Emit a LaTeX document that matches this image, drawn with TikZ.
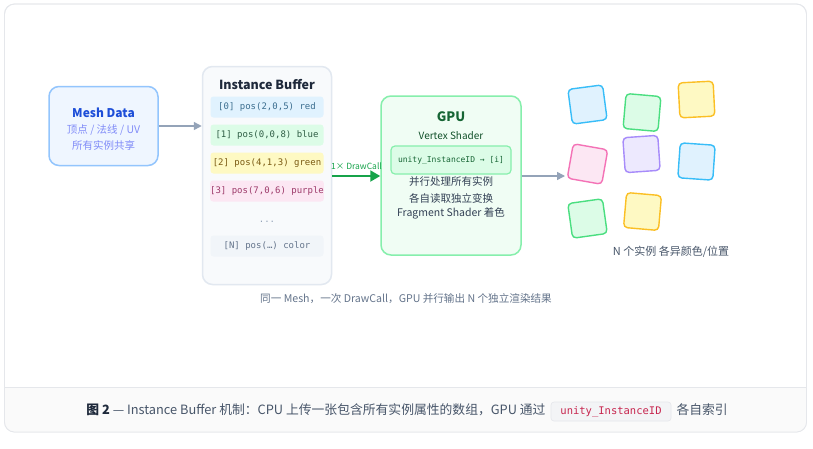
\documentclass[tikz,border=0pt]{standalone}
\usepackage{fontspec}
\setmainfont{Noto Sans CJK SC}
\setmonofont{DejaVu Sans Mono}
\usetikzlibrary{arrows.meta}
\definecolor{frameln}{HTML}{E5E7EB}
\definecolor{capbg}{HTML}{FAFAFA}
\definecolor{meshfill}{HTML}{EFF6FF}
\definecolor{meshln}{HTML}{93C5FD}
\definecolor{meshtitle}{HTML}{1D4ED8}
\definecolor{meshsub}{HTML}{818CF8}
\definecolor{ibfill}{HTML}{F8FAFC}
\definecolor{ibln}{HTML}{E2E8F0}
\definecolor{dark}{HTML}{1E293B}
\definecolor{slate}{HTML}{64748B}
\definecolor{slatedk}{HTML}{475569}
\definecolor{body}{HTML}{334155}
\definecolor{arrowgrey}{HTML}{94A3B8}
\definecolor{gpufill}{HTML}{F0FDF4}
\definecolor{gpuln}{HTML}{86EFAC}
\definecolor{gpudk}{HTML}{166534}
\definecolor{drawgreen}{HTML}{16A34A}
\definecolor{rowA}{HTML}{E0F2FE}\definecolor{rowAt}{HTML}{3B6E8F}
\definecolor{rowB}{HTML}{DCFCE7}\definecolor{rowBt}{HTML}{2F5E45}
\definecolor{rowC}{HTML}{FEF9C3}\definecolor{rowCt}{HTML}{7A5A12}
\definecolor{rowD}{HTML}{FCE7F3}\definecolor{rowDt}{HTML}{9D3A6A}
\definecolor{rowN}{HTML}{F1F5F9}
\definecolor{sqblueF}{HTML}{E0F2FE}\definecolor{sqblueL}{HTML}{38BDF8}
\definecolor{sqgreenF}{HTML}{DCFCE7}\definecolor{sqgreenL}{HTML}{4ADE80}
\definecolor{sqyelF}{HTML}{FEF9C3}\definecolor{sqyelL}{HTML}{FBBF24}
\definecolor{sqpinkF}{HTML}{FCE7F3}\definecolor{sqpinkL}{HTML}{F472B6}
\definecolor{sqpurF}{HTML}{EDE9FE}\definecolor{sqpurL}{HTML}{A78BFA}
\definecolor{codebg}{HTML}{F3F4F6}
\definecolor{codeln}{HTML}{E5E7EB}
\definecolor{codered}{HTML}{C7254E}
\tikzset{
  card/.style={draw, line width=1.5pt, rounded corners=10pt, inner sep=0pt},
  rowbox/.style={rounded corners=3pt, minimum width=113pt, minimum height=21pt, inner sep=0pt, font=\ttfamily\fontsize{9}{10}\selectfont},
  sqbox/.style={draw, line width=1.4pt, rounded corners=4pt, minimum size=35pt, inner sep=0pt},
  lbl/.style={inner sep=0pt},
  greyarrow/.style={draw=arrowgrey, line width=1.5pt, -{Triangle[length=8pt,width=8pt]}},
}
\begin{document}
\begin{tikzpicture}[x=1pt,y=-1pt]
\useasboundingbox (0,0) rectangle (813,448);
\fill[white] (0,0) rectangle (813,448);
% outer frame
\node[draw=frameln, line width=0.8pt, rounded corners=10pt, fill=white, minimum width=802pt, minimum height=428pt, inner sep=0pt] (frame) at (405.5,218) {};
\begin{scope}
\clip[rounded corners=10pt] (4.5,4) rectangle (806.5,432);
\fill[capbg] (4.5,387) rectangle (806.5,432);
\end{scope}
\draw[frameln, line width=0.8pt] (4.5,387) -- (806.5,387);
\draw[frameln, line width=0.8pt, rounded corners=10pt] (4.5,4) rectangle (806.5,432);

% Mesh Data
\node[card, draw=meshln, fill=meshfill, minimum width=109pt, minimum height=79pt] (mesh) at (103.5,126) {};
\node[lbl, font=\bfseries\fontsize{12}{14}\selectfont, text=meshtitle] (meshT) at (103.5,113) {Mesh Data};
\node[lbl, font=\fontsize{10.5}{12}\selectfont, text=meshsub] (meshS1) at (103.5,130) {顶点 / 法线 / UV};
\node[lbl, font=\fontsize{10.5}{12}\selectfont, text=meshsub] (meshS2) at (103.5,145) {所有实例共享};

% Instance Buffer
\node[card, draw=ibln, fill=ibfill, minimum width=129pt, minimum height=218pt] (ib) at (267,175.5) {};
\node[lbl, font=\bfseries\fontsize{12.5}{14}\selectfont, text=dark] (ibT) at (267,85) {Instance Buffer};
\node[rowbox, fill=rowA, text=rowAt] (r0) at (267,107) {[0] pos(2,0,5) red};
\node[rowbox, fill=rowB, text=rowBt] (r1) at (267,135) {[1] pos(0,0,8) blue};
\node[rowbox, fill=rowC, text=rowCt] (r2) at (267,163) {[2] pos(4,1,3) green};
\node[rowbox, fill=rowD, text=rowDt] (r3) at (267,191) {[3] pos(7,0,6) purple};
\node[lbl, font=\ttfamily\fontsize{9}{10}\selectfont, text=arrowgrey] (dots) at (267,222) {...};
\node[rowbox, fill=rowN, text=slate] (rN) at (267,246) {[N] pos(…) color};

% GPU
\node[card, draw=gpuln, fill=gpufill, minimum width=140pt, minimum height=159pt] (gpu) at (451,175.5) {};
\node[lbl, font=\bfseries\fontsize{13}{15}\selectfont, text=gpudk] (gpuT) at (451,117) {GPU};
\node[lbl, font=\fontsize{10}{12}\selectfont, text=gpudk!80!black] (vs) at (451,136) {Vertex Shader};
\node[draw=gpuln, line width=1.2pt, fill=rowB, rounded corners=4pt, minimum width=120pt, minimum height=28pt, inner sep=0pt, font=\ttfamily\fontsize{8}{10}\selectfont, text=gpudk] (uid) at (451,160) {unity\_InstanceID → [i]};
\node[lbl, font=\fontsize{10.5}{12}\selectfont, text=body] (g1) at (451,182) {并行处理所有实例};
\node[lbl, font=\fontsize{10.5}{12}\selectfont, text=body] (g2) at (451,198) {各自读取独立变换};
\node[lbl, font=\fontsize{10.5}{12}\selectfont, text=body] (g3) at (451,213) {Fragment Shader 着色};

% connectors
\draw[greyarrow] (mesh.east) -- (ib.west |- mesh.east);
\draw[draw=drawgreen, line width=2pt, -{Triangle[length=10pt,width=11pt]}] (ib.east |- 0,176) -- (gpu.west |- 0,176);
\node[lbl, font=\fontsize{8.5}{10}\selectfont, text=drawgreen] (dc) at (356.5,166) {1× DrawCall};
\coordinate (inst) at (565,176);
\draw[greyarrow] (gpu.east |- inst) -- (inst);

% instances
\node[sqbox, fill=sqblueF, draw=sqblueL, rotate=7.5] (s1) at (587.5,104.5) {};
\node[sqbox, fill=sqgreenF, draw=sqgreenL, rotate=-5] (s2) at (642,112.5) {};
\node[sqbox, fill=sqyelF, draw=sqyelL, rotate=3] (s3) at (696.5,99.5) {};
\node[sqbox, fill=sqpinkF, draw=sqpinkL, rotate=-10] (s4) at (587.5,164) {};
\node[sqbox, fill=sqpurF, draw=sqpurL, rotate=4] (s5) at (641.5,154) {};
\node[sqbox, fill=sqblueF, draw=sqblueL, rotate=-4] (s6) at (696.5,161.5) {};
\node[sqbox, fill=sqgreenF, draw=sqgreenL, rotate=8] (s7) at (587.5,218.5) {};
\node[sqbox, fill=sqyelF, draw=sqyelL, rotate=-5] (s8) at (642.5,211.5) {};
\node[lbl, font=\fontsize{11}{13}\selectfont, text=slatedk] (nlab) at (671,252) {N 个实例 各异颜色/位置};

% subtitle
\node[lbl, font=\fontsize{10.6}{12}\selectfont, text=slate] (sub) at (406,298.5) {同一 Mesh，一次 DrawCall，GPU 并行输出 N 个独立渲染结果};

% caption
\node[draw=codeln, line width=0.6pt, fill=codebg, rounded corners=3pt, inner sep=0pt, minimum width=120pt, minimum height=19pt, font=\ttfamily\fontsize{10.5}{12}\selectfont, text=codered] (code) at (611,411.5) {unity\_InstanceID};
\node[lbl, anchor=base east, font=\fontsize{12.8}{15}\selectfont, text=slatedk] (capL) at ([xshift=-5pt]code.base west) {{\bfseries\color{dark}图 2} — Instance Buffer 机制：CPU 上传一张包含所有实例属性的数组，GPU 通过};
\node[lbl, anchor=base west, font=\fontsize{12.8}{15}\selectfont, text=slatedk] (capR) at ([xshift=5pt]code.base east) {各自索引};
\end{tikzpicture}
\end{document}
